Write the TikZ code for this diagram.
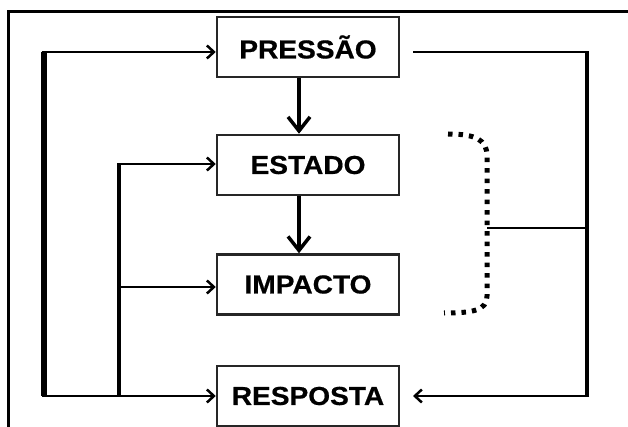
\documentclass[tikz,border=0pt]{standalone}
\usepackage{fontspec}
\setmainfont{Liberation Sans}[FakeStretch=1.08,FakeBold=0.6]
\usetikzlibrary{arrows.meta}
\begin{document}
\begin{tikzpicture}[x=1pt,y=-1pt,
  box/.style={draw=black!85,line width=2.5pt,minimum width=182pt,minimum height=60pt,inner sep=0pt,font=\fontsize{26}{26}\selectfont\bfseries},
  thin/.style={line width=2.5pt,-{Straight Barb[length=7pt,width=13pt,line width=2.5pt]}},
  thick/.style={line width=3.5pt,-{Straight Barb[length=14pt,width=22pt,line width=3.5pt]}},
  bar/.style={line width=4.5pt},
  dots/.style={line width=5pt,line cap=butt,dash pattern=on 4.5pt off 6pt}]
\clip (0,0) rectangle (628,427);
\fill[white] (0,0) rectangle (628,427);
\draw[line width=3pt] (8,12) rectangle (660,460);
\node[box] (pres) at (308,47) {PRESSÃO};
\node[box] (est) at (308,165) {ESTADO};
\node[box] (imp) at (308,284.5) {IMPACTO};
\node[box] (resp) at (308,396) {RESPOSTA};
\coordinate (xv) at (299,0);
\coordinate (otop) at (44,52);
\coordinate (obot) at (44,396);
\coordinate (itop) at (119,164);
\coordinate (imid) at (119,287);
\coordinate (ibot) at (119,396);
\coordinate (rtop) at (587,52);
\coordinate (rbot) at (587,396);
\coordinate (rmid) at (587,228);
\coordinate (pout) at (413,52);
\coordinate (rin) at (413,396);
% vertical arrows
\draw[thick] (pres.south -| xv) -- (est.north -| xv);
\draw[thick] (est.south -| xv) -- (imp.north -| xv);
% outer left loop
\draw[bar,line width=5.5pt] (otop) -- (obot);
\draw[thin] ([xshift=-2.5pt]otop) -- (pres.west |- otop);
\draw[thin] ([xshift=-2.5pt]obot) -- (resp.west |- obot);
% inner left
\draw[bar] (itop) -- (ibot);
\draw[thin] ([xshift=-2pt]itop) -- (est.west |- itop);
\draw[thin] (imid) -- (imp.west |- imid);
% right loop
\draw[line width=2.5pt] (pout) -- ([xshift=2pt]rtop);
\draw[bar] (rtop) -- (rbot);
\draw[thin] ([xshift=2pt]rbot) -- (rin);
% dotted bracket
\draw[dots] (448,134) .. controls (476,134) and (487,140) .. (487,156) -- (487,296) .. controls (487,310) and (474,313) .. (444,313);
\coordinate (bmid) at (487,228);
\draw[line width=2.5pt] (bmid) -- (rmid);
\end{tikzpicture}
\end{document}
